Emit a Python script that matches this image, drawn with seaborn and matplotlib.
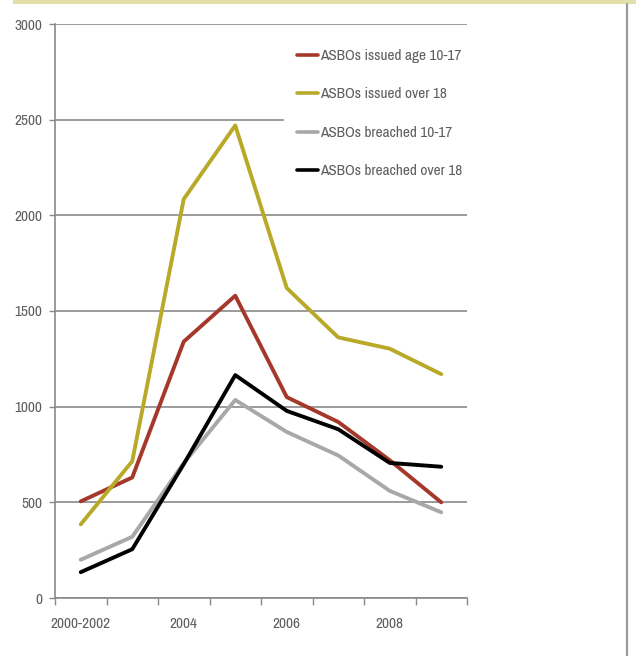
import matplotlib
matplotlib.use("Agg")
import matplotlib.pyplot as plt
import seaborn as sns
import pandas as pd
from matplotlib.lines import Line2D
from matplotlib.patches import Rectangle

# Years (first point covers 2000-2002)
years = ["2000-2002", "2003", "2004", "2005", "2006", "2007", "2008", "2009"]
tick_labels = ["2000-2002", "2004", "2006", "2008"]

issued_10_17 = [505, 630, 1340, 1580, 1050, 920, 720, 500]
issued_over_18 = [385, 715, 2085, 2470, 1620, 1362, 1303, 1170]
breached_10_17 = [200, 320, 705, 1035, 868, 745, 560, 448]
breached_over_18 = [135, 255, 700, 1165, 978, 882, 706, 686]

series_names = [
    "ASBOs issued age 10-17",
    "ASBOs issued over 18",
    "ASBOs breached 10-17",
    "ASBOs breached over 18",
]
series_values = [issued_10_17, issued_over_18, breached_10_17, breached_over_18]
colors = ["#A5382B", "#B8AA28", "#A8A8A8", "#000000"]

df = pd.concat(
    [pd.DataFrame({"year": years, "count": v, "series": n})
     for n, v in zip(series_names, series_values)],
    ignore_index=True,
)

sns.set_theme(style="white")
plt.rcParams["font.family"] = ["Archivo Narrow", "DejaVu Sans"]

W, H = 636, 656
fig = plt.figure(figsize=(W / 100, H / 100), dpi=100)
fig.patch.set_facecolor("white")

ax = fig.add_axes([55 / W, (H - 598) / H, 412 / W, 574 / H])
ax.set_facecolor("white")

sns.lineplot(
    data=df, x="year", y="count", hue="series", hue_order=series_names,
    palette=colors, linewidth=2.8, sort=False, ax=ax, legend=False,
)

grey = "#8a8a8a"
text_grey = "#5e5e5e"
ax.set_xlim(-0.5, len(years) - 0.5)
ax.set_ylim(0, 3000)
ax.set_yticks(range(0, 3001, 500))
ax.yaxis.grid(True, color=grey, linewidth=1.2)
ax.xaxis.grid(False)
ax.set_axisbelow(True)

ax.set_xticks([0, 2, 4, 6])
ax.set_xticklabels(tick_labels)
ax.set_xticks([i - 0.5 for i in range(len(years) + 1)], minor=True)
ax.tick_params(axis="x", which="major", length=0, pad=14, labelsize=11, labelcolor=text_grey)
ax.tick_params(axis="x", which="minor", length=5, width=1, color=grey, direction="out")
ax.tick_params(axis="y", length=4, width=1, color=grey, direction="out", pad=5,
               labelsize=11, labelcolor=text_grey)
ax.tick_params(bottom=True, left=True, which="both")
ax.set_xlabel("")
ax.set_ylabel("")

for side in ("top", "right"):
    ax.spines[side].set_visible(False)
for side in ("left", "bottom"):
    ax.spines[side].set_color(grey)
    ax.spines[side].set_linewidth(1.2)

handles = [Line2D([0], [0], color=c, linewidth=2.6) for c in colors]
leg = ax.legend(
    handles, series_names, loc="upper left",
    bbox_to_anchor=(284 / W, 1 - 36 / H), bbox_transform=fig.transFigure,
    frameon=True, facecolor="white", edgecolor="white", framealpha=1, fancybox=False,
    fontsize=11, labelcolor=text_grey, handlelength=1.37, handletextpad=0.15,
    labelspacing=1.6, borderpad=0.85, borderaxespad=0,
)

# top accent band and right rule
fig.add_artist(Rectangle((13 / W, 1 - 4 / H), 1, 4 / H, transform=fig.transFigure,
                         facecolor="#E2E0A8", edgecolor="none"))
fig.add_artist(Line2D([627 / W, 627 / W], [0, 1 - 4 / H], transform=fig.transFigure,
                      color="#9a9a9a", linewidth=1.6))

fig.savefig("out.png", dpi=100, facecolor="white")
